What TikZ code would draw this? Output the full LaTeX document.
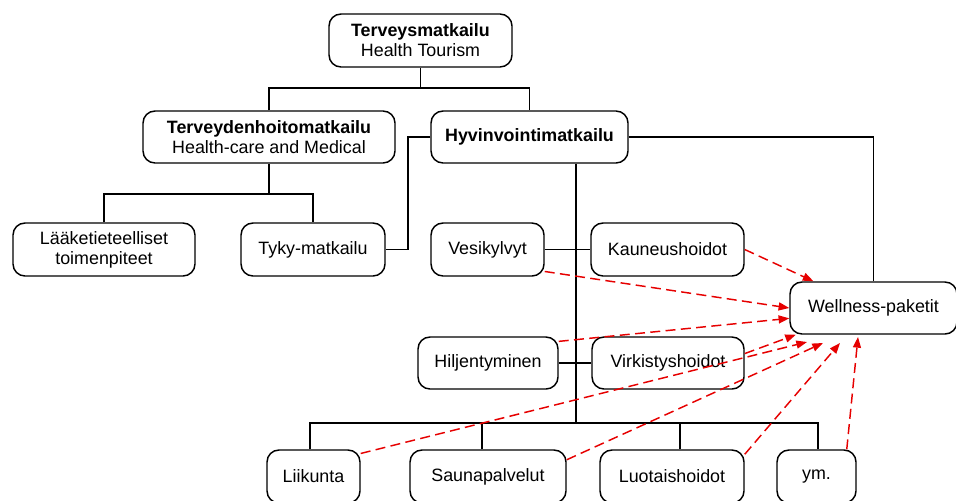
\documentclass[tikz,border=0pt]{standalone}
\usepackage{fontspec}
\setmainfont{Liberation Sans}
\usetikzlibrary{arrows.meta}
\definecolor{arrred}{RGB}{230,0,0}
\tikzset{
  box/.style={draw=black, line width=1.1pt, rounded corners=9pt, align=center, inner sep=0pt,
    font=\fontsize{13.4}{15}\selectfont},
  conn/.style={draw=black, line width=1.1pt},
  redarrow/.style={draw=arrred, line width=1.1pt, dash pattern=on 7.5pt off 4pt,
    -{Triangle[length=8pt,width=6pt]}, fill=none},
}
\begin{document}
\begin{tikzpicture}[x=0.75pt,y=-0.75pt]
\useasboundingbox (0,0) rectangle (956,500);
% boxes (centre, size in px)
\node[box, minimum width=183*0.75pt, minimum height=53*0.75pt] (top) at (420.5,40.5) {\textbf{Terveysmatkailu}\\Health Tourism};
\node[box, minimum width=252*0.75pt, minimum height=52*0.75pt] (tdh) at (269,137) {\textbf{Terveydenhoitomatkailu}\\Health-care and Medical};
\node[box, minimum width=197*0.75pt, minimum height=52*0.75pt] (hyv) at (529.5,137) {\textbf{Hyvinvointimatkailu}};
\node[box, minimum width=182*0.75pt, minimum height=53*0.75pt] (laak) at (104,249.5) {Lääketieteelliset\\toimenpiteet};
\node[box, minimum width=144*0.75pt, minimum height=53*0.75pt] (tyky) at (313,249.5) {Tyky-matkailu};
\node[box, minimum width=113*0.75pt, minimum height=53*0.75pt] (vesi) at (487.5,249.5) {Vesikylvyt};
\node[box, minimum width=153*0.75pt, minimum height=53*0.75pt] (kaun) at (667.5,249.5) {Kauneushoidot};
\node[box, minimum width=167*0.75pt, minimum height=52*0.75pt] (well) at (873.5,308) {Wellness-paketit};
\node[box, minimum width=140*0.75pt, minimum height=52*0.75pt] (hilj) at (488,363) {Hiljentyminen};
\node[box, minimum width=152*0.75pt, minimum height=52*0.75pt] (virk) at (668,363) {Virkistyshoidot};
\node[box, minimum width=93*0.75pt, minimum height=53*0.75pt] (liik) at (313.5,476.5) {Liikunta};
\node[box, minimum width=156*0.75pt, minimum height=53*0.75pt] (saun) at (488,476.5) {Saunapalvelut};
\node[box, minimum width=144*0.75pt, minimum height=53*0.75pt] (luot) at (672,476.5) {Luotaishoidot};
\node[box, minimum width=79*0.75pt, minimum height=53*0.75pt] (ym) at (816.5,476.5) {ym.};
% junction coordinates
\coordinate (b1) at (420.5,88);
\coordinate (b2) at (269,194);
\coordinate (c1) at (408,200);
\coordinate (b3) at (576,423);
% black connectors
\draw[conn] (top.south) -- (b1);
\draw[conn] (tdh.north) |- (b1) -| (hyv.north);
\draw[conn] (tdh.south) -- (b2);
\draw[conn] (laak.north) |- (b2) -| (tyky.north);
\draw[conn] (hyv.west) -| (c1) |- (tyky.east);
\draw[conn] (hyv.east) -| (well.north);
\draw[conn] (b3 |- hyv.south) -- (b3);
\draw[conn] (vesi.east) -- (kaun.west);
\draw[conn] (hilj.east) -- (virk.west);
\draw[conn] ([xshift=-2.6pt]liik.north) |- (b3) -| ([xshift=1.1pt]ym.north);
\draw[conn] ([xshift=-4.5pt]saun.north) -- ([xshift=-4.5pt]saun.north |- b3);
\draw[conn] ([xshift=6pt]luot.north) -- ([xshift=6pt]luot.north |- b3);
% arrow tip coordinates
\coordinate (t5) at (807,342);
\coordinate (t6) at (823,343);
\coordinate (t7) at (840,343);
\coordinate (t8) at (858,337);
% red dashed arrows
\draw[redarrow] (kaun.east) -- (well.156);
\draw[redarrow] (vesi.-21) -- (well.west);
\draw[redarrow] (hilj.17) -- (well.187);
\draw[redarrow] (virk.7.5) -- (well.199);
\draw[redarrow] (liik.26) -- (t5);
\draw[redarrow] (saun.12.6) -- (t6);
\draw[redarrow] (luot.17) -- (t7);
\draw[redarrow] (ym.42) -- (t8);
\end{tikzpicture}
\end{document}
